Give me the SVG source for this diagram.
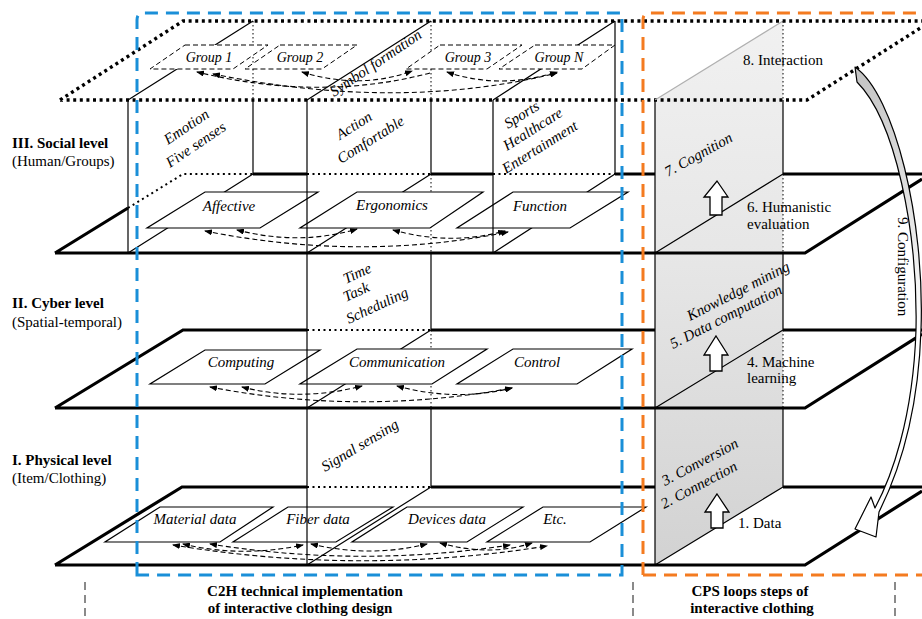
<svg xmlns="http://www.w3.org/2000/svg" width="922" height="619" viewBox="0 0 922 619">
<defs>
<linearGradient id="wallg" gradientUnits="userSpaceOnUse" x1="0" y1="21" x2="0" y2="565">
<stop offset="0" stop-color="#f1f1f1"/><stop offset="0.45" stop-color="#e6e6e6"/><stop offset="1" stop-color="#d2d2d2"/>
</linearGradient>
<linearGradient id="arrg" gradientUnits="userSpaceOnUse" x1="0" y1="70" x2="0" y2="330">
<stop offset="0" stop-color="#c4c4c4"/><stop offset="1" stop-color="#ffffff"/>
</linearGradient>
<marker id="ah" viewBox="0 0 8 6" refX="7" refY="3" markerWidth="8" markerHeight="6" markerUnits="userSpaceOnUse" orient="auto-start-reverse"><path d="M0,0 L8,3 L0,6 Z" fill="#000"/></marker>
</defs>
<style>
.thick{stroke:#000;stroke-width:3.2;fill:none}
.thin{stroke:#000;stroke-width:1.2;fill:none}
.dots{stroke:#000;stroke-width:3.4;fill:none;stroke-dasharray:3 3.6}
.hid{stroke:#000;stroke-width:2;fill:none;stroke-dasharray:2 3.5}
.hidthin{stroke:#000;stroke-width:1;fill:none;stroke-dasharray:1.5 2.5}
.box{fill:#fff;stroke:#000;stroke-width:1.2}
.gbox{fill:#fff;stroke:#000;stroke-width:1;stroke-dasharray:5 3}
.arc{fill:none;stroke:#000;stroke-width:1.1;stroke-dasharray:5 3}
text{font-family:"Liberation Serif","Times New Roman",serif;fill:#000}
.it{font-style:italic;font-size:15px}
.itg{font-style:italic;font-size:14px}
.lvl{font-weight:bold;font-size:15px}
.sub{font-size:15px}
.rg{font-size:15px}
.cap{font-weight:bold;font-size:15px}
</style>
<rect width="922" height="619" fill="#fff"/>

<g id="cps-wall">
<polygon points="655,100 783,21 783,487 655,565" fill="url(#wallg)"/>
</g>

<g id="planes">
<g id="plane-top"><path class="dots" d="M60,100 L183,21 L922,21 M60,100 L807,100 L922,27"/></g>
<g id="plane-social">
<path class="thick" d="M55,253 L128,208 M253,174 H307 M431,174 H493 M615,174 H655 M783,174 H922 M55,253 H805 L922,179"/>
<path class="hid" d="M128,208 L183,174 H253 M307,174 H431 M493,174 H615"/>
</g>
<g id="plane-cyber">
<path class="thick" d="M55,408 L183,330 H307 M431,330 H655 M783,330 H922 M55,408 H805 L922,334"/>
<path class="hid" d="M307,330 H431"/>
</g>
<g id="plane-physical">
<path class="thick" d="M55,565 L182,487 H307 M431,487 H655 M783,487 H922 M55,565 H805 L922,491"/>
<path class="hid" d="M307,487 H431"/>
</g>
</g>

<g id="cps-wall-lines">
<path d="M655,100 L783,21" stroke="#b0b0b0" stroke-width="1.2" fill="none"/>
<path class="thin" d="M655,100 V565 M783,100 V174 M783,253 V330 M783,408 V487 M655,253 L783,174 M655,408 L783,330 M655,565 L783,487"/>
<path class="hidthin" d="M783,21 V100 M783,174 V253 M783,330 V408"/>
</g>

<g id="walls">
<g id="wall-emotion">
<path class="thin" d="M128,100 V253 M253,100 V174 M128,100 L253,21 M128,253 L253,174"/>
<path class="hidthin" d="M253,21 V100"/>
</g>
<g id="wall-action">
<path class="thin" d="M431,100 V174 M431,253 V330 M431,408 V487 M307,100 L431,21 M307,253 L431,174 M307,408 L431,330 M307,565 L431,487"/>
<path class="hidthin" d="M431,21 V100 M431,174 V253 M431,330 V408"/>
</g>
<g id="wall-sports">
<path class="thin" d="M615,21 V174 M493,100 L615,21 M493,253 L615,174"/>
</g>
</g>

<g id="group-boxes">
<g id="g1"><polygon class="gbox" points="185,45 268,45 233,69 150,69"/><text class="itg" x="209" y="62" text-anchor="middle">Group 1</text></g>
<g id="g2"><polygon class="gbox" points="280,45 357,45 322,69 245,69"/><text class="itg" x="300" y="62" text-anchor="middle">Group 2</text></g>
<g id="g3"><polygon class="gbox" points="440,45 522,45 487,69 406,69"/><text class="itg" x="468" y="62" text-anchor="middle">Group 3</text></g>
<g id="gN"><polygon class="gbox" points="535,45 615,45 582,69 499,69"/><text class="itg" x="559" y="62" text-anchor="middle">Group N</text></g>
</g>

<g id="social-boxes">
<g id="affective"><polygon class="box" points="205,192 318,192 260,228 147,228"/><text class="it" x="229" y="211" text-anchor="middle">Affective</text></g>
<g id="ergonomics"><polygon class="box" points="357,192 483,192 430,228 300,228"/><text class="it" x="392" y="210" text-anchor="middle">Ergonomics</text></g>
<g id="function"><polygon class="box" points="513,192 628,192 570,228 457,228"/><text class="it" x="540" y="211" text-anchor="middle">Function</text></g>
</g>

<g id="cyber-boxes">
<g id="computing"><polygon class="box" points="205,350 320,350 265,384 150,384"/><text class="it" x="241" y="367" text-anchor="middle">Computing</text></g>
<g id="communication"><polygon class="box" points="357,349 487,349 432,384 300,384"/><text class="it" x="397" y="367" text-anchor="middle">Communication</text></g>
<g id="control"><polygon class="box" points="513,349 632,349 577,384 457,384"/><text class="it" x="537" y="367" text-anchor="middle">Control</text></g>
</g>

<g id="physical-boxes">
<g id="material"><polygon class="box" points="160,507 273,507 220,542 105,542"/><text class="it" x="195" y="524" text-anchor="middle">Material data</text></g>
<g id="fiber"><polygon class="box" points="288,507 393,507 336,542 233,542"/><text class="it" x="318" y="524" text-anchor="middle">Fiber data</text></g>
<g id="devices"><polygon class="box" points="407,507 523,507 467,542 352,542"/><text class="it" x="447" y="524" text-anchor="middle">Devices data</text></g>
<g id="etc"><polygon class="box" points="543,507 646,507 590,542 487,542"/><text class="it" x="555" y="524" text-anchor="middle">Etc.</text></g>
</g>

<g id="front-verticals">
<path class="thin" d="M307,100 V565 M493,100 V253"/>
</g>

<g id="connectors">
<path class="arc" marker-end="url(#ah)" d="M430,73 Q320,102 197,72"/>
<path class="arc" marker-start="url(#ah)" marker-end="url(#ah)" d="M213,74 Q400,112 557,73"/>
<path class="arc" marker-start="url(#ah)" marker-end="url(#ah)" d="M302,72 Q360,90 412,71"/>
<path class="arc" marker-start="url(#ah)" marker-end="url(#ah)" d="M447,72 Q500,90 557,72"/>

<path class="arc" marker-start="url(#ah)" marker-end="url(#ah)" d="M205,231 Q360,262 508,232"/>
<path class="arc" marker-start="url(#ah)" marker-end="url(#ah)" d="M237,230 Q300,246 357,229"/>
<path class="arc" marker-start="url(#ah)" marker-end="url(#ah)" d="M393,230 Q450,246 505,231"/>

<path class="arc" marker-start="url(#ah)" marker-end="url(#ah)" d="M210,387 Q360,416 512,388"/>
<path class="arc" marker-start="url(#ah)" marker-end="url(#ah)" d="M242,387 Q300,402 362,386"/>
<path class="arc" marker-start="url(#ah)" marker-end="url(#ah)" d="M397,386 Q455,402 512,388"/>

<path class="arc" marker-start="url(#ah)" marker-end="url(#ah)" d="M173,545 Q360,576 547,546"/>
<path class="arc" marker-start="url(#ah)" marker-end="url(#ah)" d="M183,544 Q240,558 303,545"/>
<path class="arc" marker-start="url(#ah)" marker-end="url(#ah)" d="M210,544 Q360,568 510,545"/>
<path class="arc" marker-start="url(#ah)" marker-end="url(#ah)" d="M311,544 Q370,558 427,544"/>
<path class="arc" marker-start="url(#ah)" marker-end="url(#ah)" d="M440,543 Q490,557 532,543"/>

<g id="up-arrows" fill="#fff" stroke="#000" stroke-width="1.3">
<path d="M717,181 L728,197 L722,197 L722,215 L710,215 L710,197 L704,197 Z"/>
<path d="M716,336 L728,355 L722,355 L722,371 L710,371 L710,355 L704,355 Z"/>
<path d="M717,494 L729,512 L723,512 L723,528 L711,528 L711,512 L705,512 Z"/>
</g>

<g id="config-arrow">
<path d="M855,67 C895,95 925,220 921,330 C918,420 895,480 879,512 L876,537 L855,529 L871,497 L875,508 C891,478 913,420 916,330 C918,230 895,120 857,82 Z" fill="url(#arrg)" stroke="#000" stroke-width="1.2" stroke-linejoin="round"/>
</g>
</g>

<g id="wall-texts">
<text class="it" transform="translate(168,145) rotate(-34)">Emotion</text>
<text class="it" transform="translate(170,168) rotate(-34)">Five senses</text>
<text class="it" transform="translate(340,140) rotate(-32)">Action</text>
<text class="it" transform="translate(341,164) rotate(-32)">Comfortable</text>
<text class="it" transform="translate(508,129) rotate(-32)">Sports</text>
<text class="it" transform="translate(507,151) rotate(-32)">Healthcare</text>
<text class="it" transform="translate(506,174) rotate(-32)">Entertainment</text>
<text class="it" transform="translate(334,97) rotate(-34)">Symbol formation</text>
<text class="it" transform="translate(346,284) rotate(-25)">Time</text>
<text class="it" transform="translate(346,302) rotate(-25)">Task</text>
<text class="it" transform="translate(349,324) rotate(-25)">Scheduling</text>
<text class="it" transform="translate(325,472) rotate(-31)">Signal sensing</text>
</g>

<g id="cps-texts">
<text class="rg" x="743" y="65">8. Interaction</text>
<text class="it" transform="translate(668,177) rotate(-29)">7. Cognition</text>
<text class="rg" x="747" y="212">6. Humanistic</text>
<text class="rg" x="747" y="229">evaluation</text>
<text class="it" transform="translate(690,321) rotate(-27)">Knowledge mining</text>
<text class="it" transform="translate(673,349) rotate(-27)">5.  Data computation</text>
<text class="rg" x="747" y="367">4. Machine</text>
<text class="rg" x="747" y="383">learning</text>
<text class="it" transform="translate(665,486) rotate(-28)">3. Conversion</text>
<text class="it" transform="translate(664,509) rotate(-28)">2. Connection</text>
<text class="rg" x="738" y="528">1. Data</text>
<text class="rg" font-size="16" transform="translate(898,217) rotate(90)">9. Configuration</text>
</g>

<g id="level-labels">
<text class="lvl" x="12" y="148">III. Social level</text>
<text class="sub" x="12" y="166">(Human/Groups)</text>
<text class="lvl" x="12" y="308">II. Cyber level</text>
<text class="sub" x="12" y="327">(Spatial-temporal)</text>
<text class="lvl" x="12" y="465">I. Physical level</text>
<text class="sub" x="12" y="483">(Item/Clothing)</text>
</g>

<g id="frames">
<path d="M137,575 V20 Q137,13 144,13 H622 V575 Z" fill="none" stroke="#1a8fd8" stroke-width="3" stroke-dasharray="13 8"/>
<path d="M643,575 V20 Q643,13 650,13 H930 M643,575 H930" fill="none" stroke="#f47b20" stroke-width="3" stroke-dasharray="13 8"/>
<path d="M85,582 V619 M633,582 V619 M895,582 V619" stroke="#8a8a8a" stroke-width="2" stroke-dasharray="8 5" fill="none"/>
</g>

<g id="captions">
<text class="cap" x="305" y="596" text-anchor="middle">C2H technical implementation</text>
<text class="cap" x="300" y="613" text-anchor="middle">of interactive clothing design</text>
<text class="cap" x="750" y="596" text-anchor="middle">CPS loops steps of</text>
<text class="cap" x="752" y="613" text-anchor="middle">interactive clothing</text>
</g>
</svg>
